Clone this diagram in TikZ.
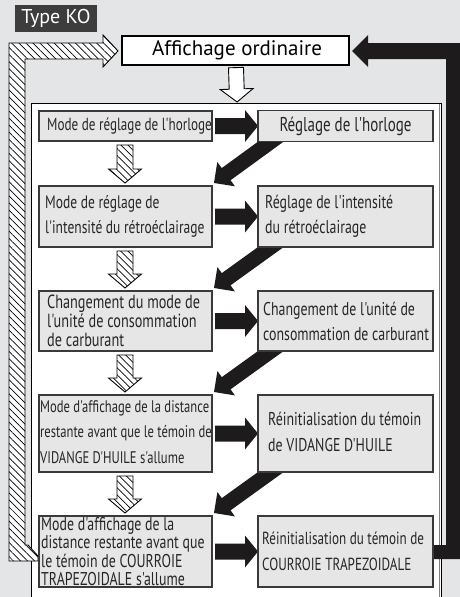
\documentclass[tikz,border=0pt]{standalone}
\usepackage{fontspec}
\setmainfont{PT Sans}
\newfontfamily\condfont{PT Sans}[FakeStretch=0.75]
\usetikzlibrary{calc,patterns.meta}
\definecolor{bgc}{HTML}{E4E5E7}
\definecolor{boxfill}{HTML}{E6E6E6}
\definecolor{boxline}{HTML}{3A3A3A}
\definecolor{tagfill}{HTML}{3D3D3D}
\definecolor{arrowblack}{HTML}{1E1B1C}
\pgfdeclarelayer{bglayer}
\pgfdeclarelayer{arrlayer}
\pgfsetlayers{bglayer,arrlayer,main}
\tikzset{
  lbox/.style={draw=boxline, fill=boxfill, line width=1.1pt, minimum width=173pt, inner sep=0pt, outer sep=0pt},
  rbox/.style={lbox, minimum width=175pt},
  txt/.style={inner sep=0pt, align=left, anchor=west, text=black!85},
  hatched/.style={draw=black, line width=0.9pt, preaction={fill=white}, pattern={Lines[angle=-45,distance=5pt,line width=0.7pt]}},
  hollow/.style={draw=black, fill=white, line width=0.9pt},
  solidarr/.style={fill=arrowblack},
}
% block arrow: style, start, tip, half shaft, half head, head length
\newcommand\blockarr[6][]{%
  \coordinate (bac) at ($(#3)!#6!(#2)$);
  \path[#1] ($(#2)!#4!90:(#3)$) -- ($(bac)!#4!90:(#3)$) -- ($(bac)!#5!90:(#3)$) -- (#3)
    -- ($(bac)!#5!-90:(#3)$) -- ($(bac)!#4!-90:(#3)$) -- ($(#2)!#4!-90:(#3)$) -- cycle;
}
\begin{document}
\begin{tikzpicture}[x=1pt,y=-1pt]
\useasboundingbox (0,0) rectangle (460,597);
\clip (0,0) rectangle (460,597);
\begin{pgfonlayer}{bglayer}
  \fill[bgc] (0,0) rectangle (460,597);
  \node[draw=black, fill=white, line width=1.2pt, minimum width=410pt, minimum height=520pt, anchor=north west, inner sep=0pt] (big) at (31,103) {};
  \draw[gray, line width=0.8pt] ($(big.north east)+(-3,1)$) -- ($(big.south east)+(-3,0)$);
\end{pgfonlayer}

% tag and top box
\node[fill=tagfill, text=white, minimum width=82pt, minimum height=27pt, inner sep=0pt] (tag) at (56,18.5) {\fontsize{20}{22}\selectfont Type KO};
\node[draw=black, fill=white, line width=1.2pt, minimum width=227pt, minimum height=29pt, inner sep=0pt] (aff) at (235.5,50.5) {\hspace{3pt}\fontsize{21}{23}\selectfont Affichage ordinaire};

% left boxes
\node[lbox, minimum height=30pt] (l1) at (125.5,126) {};
\node[lbox, minimum height=61pt] (l2) at (125.5,216.5) {};
\node[lbox, minimum height=60pt] (l3) at (125.5,321) {};
\node[lbox, minimum height=77pt] (l4) at (125.5,433.5) {};
\node[lbox, minimum height=71pt] (l5) at (125.5,551.5) {};
% right boxes
\node[rbox, minimum height=31pt] (r1) at (345.5,126) {};
\node[rbox, minimum height=61pt] (r2) at (345.5,216.5) {};
\node[rbox, minimum height=60pt] (r3) at (345.5,321) {};
\node[rbox, minimum height=77pt] (r4) at (345.5,433.5) {};
\node[rbox, minimum height=71pt] (r5) at (345.5,551.5) {};

% texts
\node[txt, font=\condfont\fontsize{17.5}{20}\selectfont] (l1t) at (47,126) {Mode de réglage de l'horloge};
\node[txt, font=\condfont\fontsize{18}{25}\selectfont] (l2t) at (45,216.5) {Mode de réglage de\\l'intensité du rétroéclairage};
\node[txt, font=\condfont\fontsize{19}{19}\selectfont] (l3t) at (47,321) {Changement du mode de\\l'unité de consommation\\de carburant};
\node[txt, font=\condfont\fontsize{16.8}{25.5}\selectfont] (l4t) at (40,432) {Mode d'affichage de la distance\\restante avant que le témoin de\\VIDANGE D'HUILE s'allume};
\node[txt, font=\condfont\fontsize{18.5}{18.5}\selectfont] (l5t) at (41,551.5) {Mode d'affichage de la\\distance restante avant que\\le témoin de COURROIE\\TRAPEZOIDALE s'allume};
\node[txt, anchor=center, font=\condfont\fontsize{20}{22}\selectfont] (r1t) at (345.5,126) {Réglage de l'horloge};
\node[txt, font=\condfont\fontsize{18.5}{25}\selectfont] (r2t) at (265,216.5) {Réglage de l'intensité\\du rétroéclairage};
\node[txt, font=\condfont\fontsize{18.5}{25}\selectfont] (r3t) at (263,321) {Changement de l'unité de\\consommation de carburant};
\node[txt, font=\condfont\fontsize{18.5}{26}\selectfont] (r4t) at (268,432) {Réinitialisation du témoin\\de VIDANGE D'HUILE};
\node[txt, font=\condfont\fontsize{17.5}{26}\selectfont] (r5t) at (262,551.5) {Réinitialisation du témoin de\\COURROIE TRAPEZOIDALE};

\begin{pgfonlayer}{arrlayer}
  % big hatched return arrow (left)
  \path[hatched] (38,561) -- (9,561) -- (9,43) -- (103,43) -- (103,35) -- (118,51) -- (103,67) -- (103,59)
     -- (25,59) -- (25,545) -- (28,545) -- (38,556) -- cycle;
  % big black return arrow (right)
  \path[solidarr] (428,545) -- (446,545) -- (446,59) -- (368,59) -- (368,67) -- (352,51) -- (368,35)
     -- (368,43) -- (462,43) -- (462,559) -- (428,559) -- cycle;
  % hollow arrow from top box
  \coordinate (ts) at ($(aff.south)+(0.5,2)$);
  \coordinate (te) at ($(big.north)+(0.5,-1)$);
  \blockarr[hollow]{ts}{te}{7.5pt}{16.5pt}{13pt}
  % horizontal black arrows
  \foreach \i in {1,...,5}{
    \coordinate (hs\i) at ($(l\i.east)+(3,0)$);
    \coordinate (he\i) at (r\i.west);
    \blockarr[solidarr]{hs\i}{he\i}{8pt}{16pt}{13pt}
  }
  % hatched down arrows and diagonal black arrows
  \foreach \i/\j in {1/2,2/3,3/4,4/5}{
    \coordinate (vs\i) at ($(l\i.south)+(-0.5,4)$);
    \coordinate (ve\i) at ($(l\j.north)+(-0.5,-3)$);
    \blockarr[hatched]{vs\i}{ve\i}{8pt}{16.5pt}{14pt}
    \coordinate (ds\i) at ($(r\i.south west)+(24,-8)$);
    \coordinate (de\i) at ($(l\j.north east)+(2,-3)$);
    \blockarr[solidarr]{ds\i}{de\i}{7.5pt}{15pt}{15pt}
  }
\end{pgfonlayer}
\end{tikzpicture}
\end{document}
